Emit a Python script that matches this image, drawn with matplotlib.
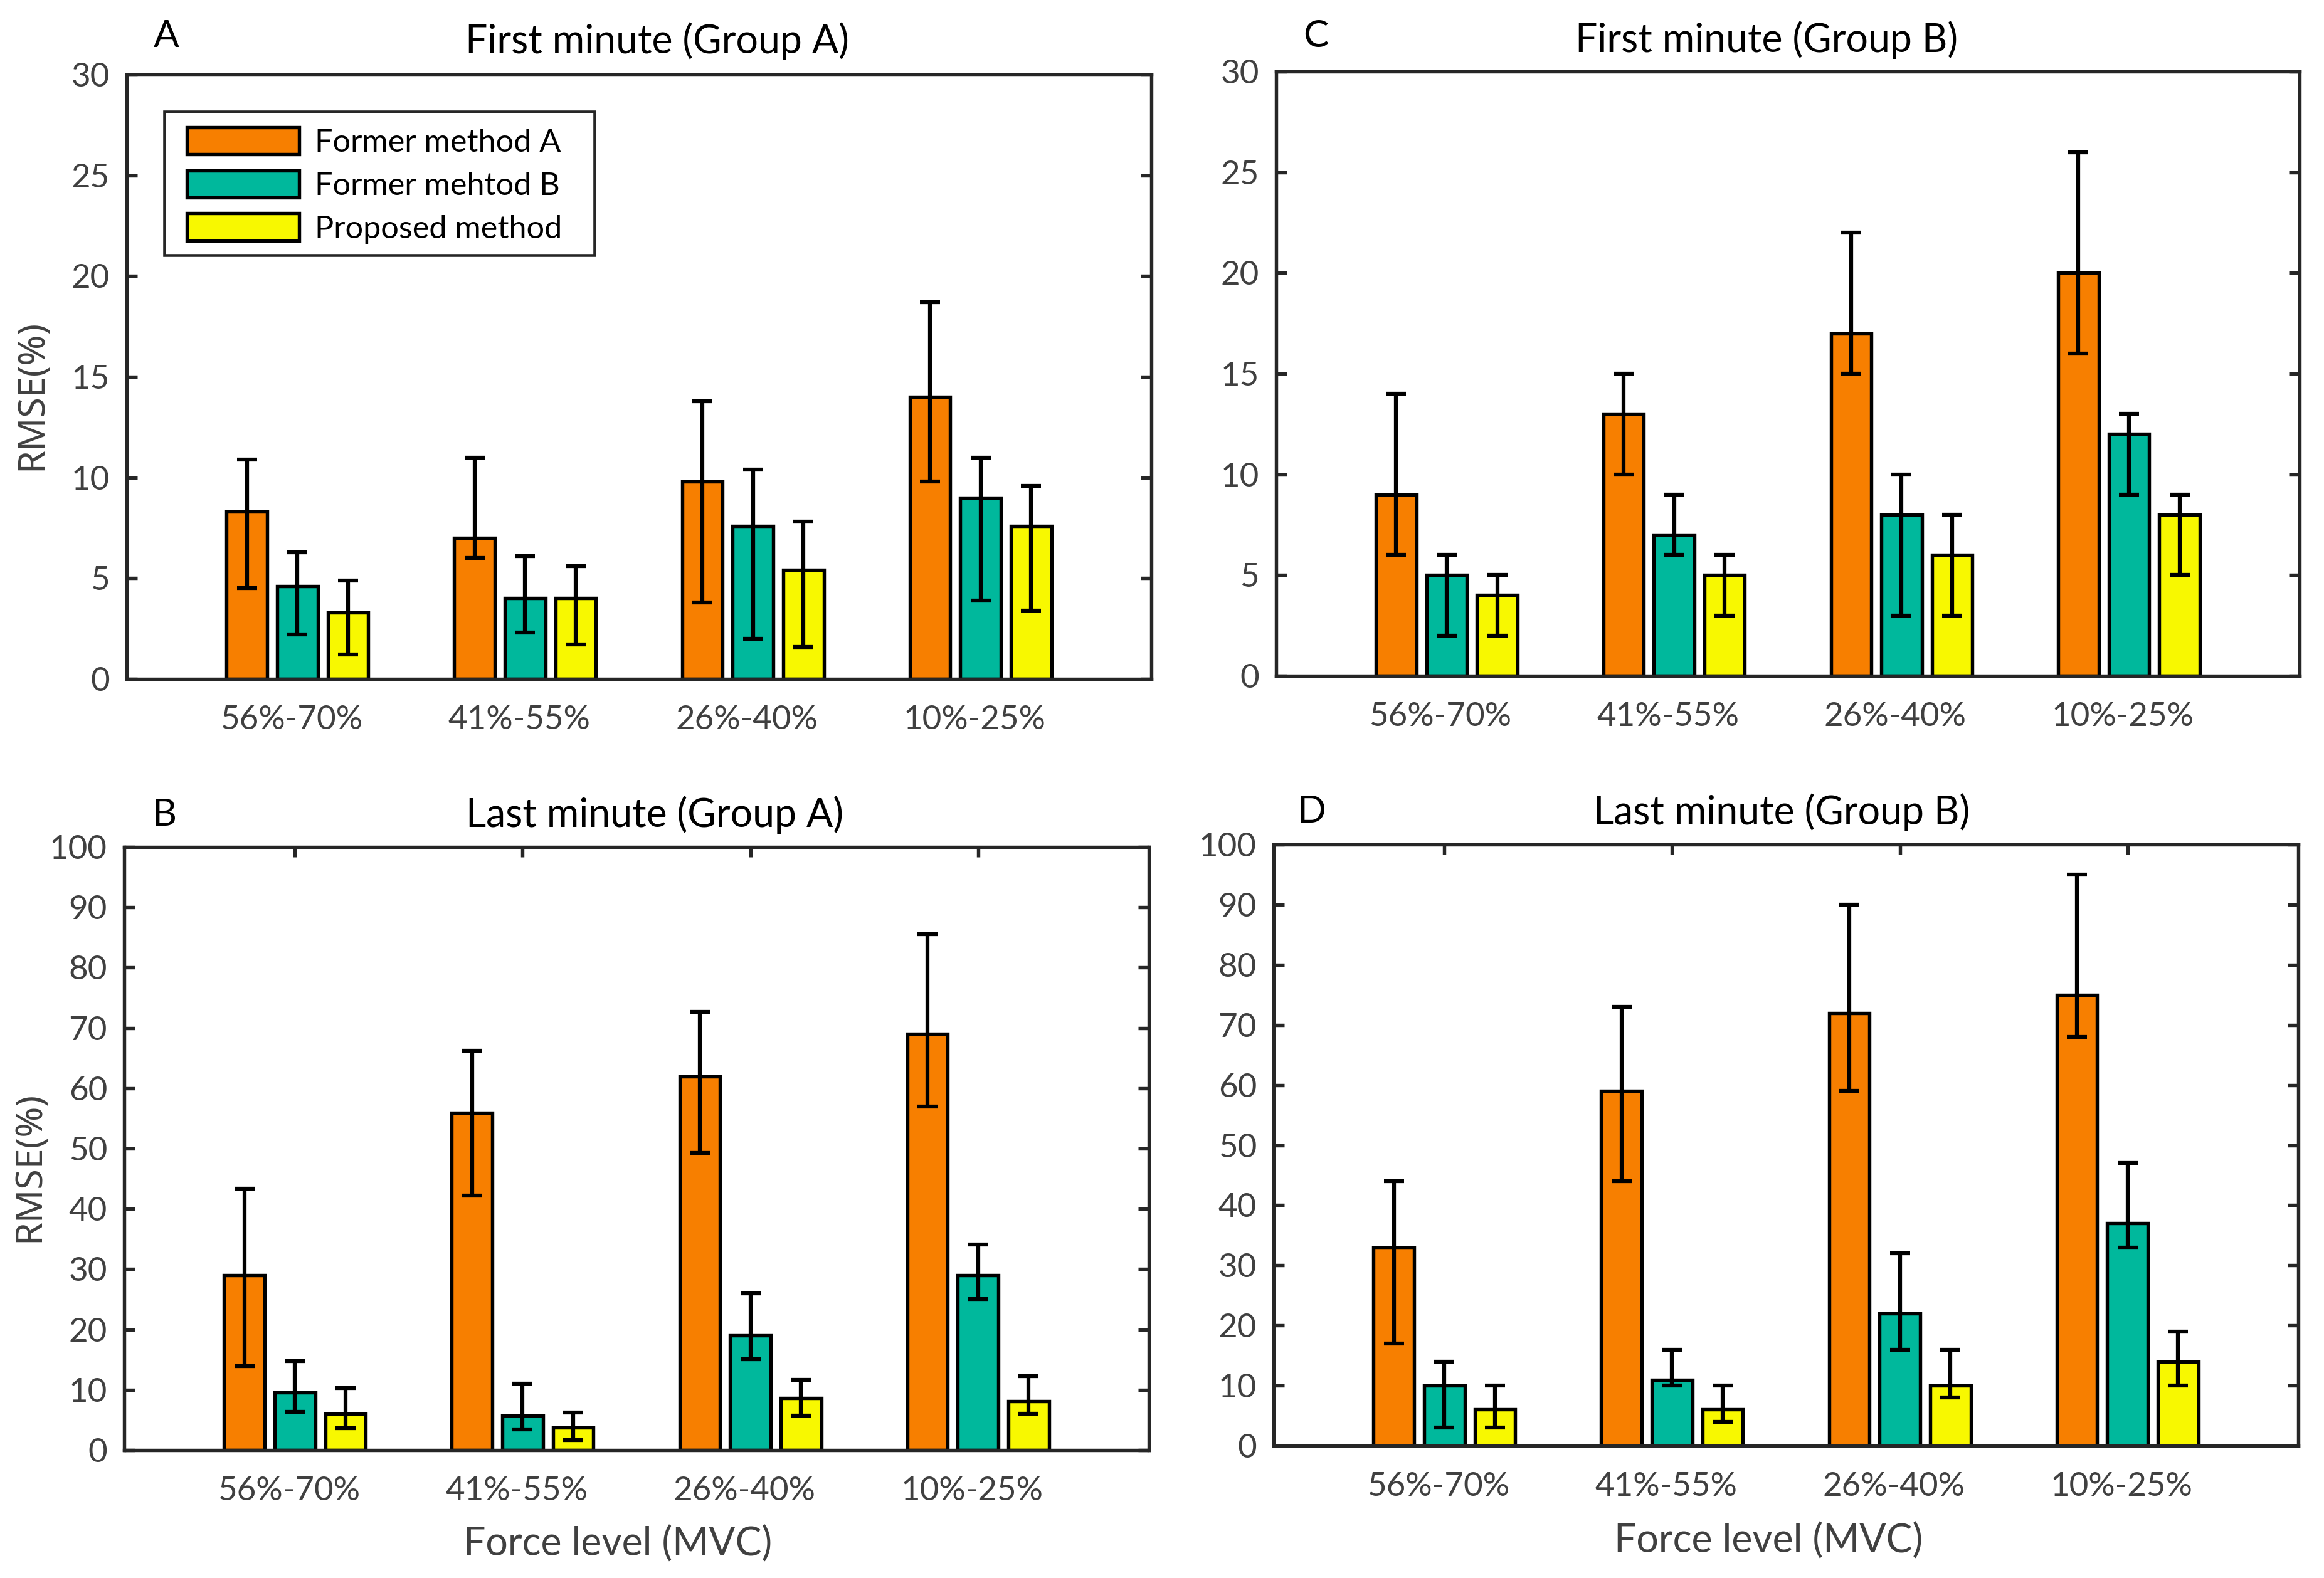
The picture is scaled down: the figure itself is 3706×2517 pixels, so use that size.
import numpy as np
import matplotlib
matplotlib.use("Agg")
import matplotlib.pyplot as plt
from matplotlib.transforms import ScaledTranslation
from matplotlib.patches import Rectangle

plt.rcParams['font.family'] = ['Lato', 'DejaVu Sans']

# ---------------- data ----------------
categories = ["56%-70%", "41%-55%", "26%-40%", "10%-25%"]
series_names = ["Former method A", "Former mehtod B", "Proposed method"]

# Panel A: First minute (Group A)
A_orange = [8.3, 7.0, 9.8, 14.0]
A_orange_lo = [4.5, 6.0, 3.8, 9.8]
A_orange_hi = [10.9, 11.0, 13.8, 18.7]
A_teal = [4.6, 4.0, 7.6, 9.0]
A_teal_lo = [2.2, 2.3, 2.0, 3.9]
A_teal_hi = [6.3, 6.1, 10.4, 11.0]
A_yellow = [3.3, 4.0, 5.4, 7.6]
A_yellow_lo = [1.2, 1.7, 1.6, 3.4]
A_yellow_hi = [4.9, 5.6, 7.8, 9.6]

# Panel C: First minute (Group B)
C_orange = [9, 13, 17, 20]
C_orange_lo = [6, 10, 15, 16]
C_orange_hi = [14, 15, 22, 26]
C_teal = [5, 7, 8, 12]
C_teal_lo = [2, 6, 3, 9]
C_teal_hi = [6, 9, 10, 13]
C_yellow = [4, 5, 6, 8]
C_yellow_lo = [2, 3, 3, 5]
C_yellow_hi = [5, 6, 8, 9]

# Panel B: Last minute (Group A)
B_orange = [29.0, 55.9, 62.0, 69.0]
B_orange_lo = [13.9, 42.2, 49.3, 57.0]
B_orange_hi = [43.3, 66.2, 72.7, 85.5]
B_teal = [9.6, 5.7, 19.0, 29.0]
B_teal_lo = [6.3, 3.4, 15.1, 25.1]
B_teal_hi = [14.8, 11.0, 26.0, 34.1]
B_yellow = [6.0, 3.7, 8.6, 8.1]
B_yellow_lo = [3.6, 1.7, 5.7, 6.0]
B_yellow_hi = [10.3, 6.2, 11.6, 12.3]

# Panel D: Last minute (Group B)
D_orange = [33, 59, 72, 75]
D_orange_lo = [17, 44, 59, 68]
D_orange_hi = [44, 73, 90, 95]
D_teal = [10, 11, 22, 37]
D_teal_lo = [3, 10, 16, 33]
D_teal_hi = [14, 16, 32, 47]
D_yellow = [6, 6, 10, 14]
D_yellow_lo = [3, 4, 8, 10]
D_yellow_hi = [10, 10, 16, 19]

yticks_first = [0, 5, 10, 15, 20, 25, 30]
yticks_last = [0, 10, 20, 30, 40, 50, 60, 70, 80, 90, 100]

# ---------------- style ----------------
colors = ["#F77F00", "#00B89C", "#F8F800"]
spine_col = "#262626"
text_gray = "#404040"

W, H, DPI = 3706, 2517, 300
fig = plt.figure(figsize=(W / DPI, H / DPI), dpi=DPI)
renderer = fig.canvas.get_renderer()

panels = [
    dict(rect=[202/W, 1-1083/H, 1634/W, 964/H], letter="A", title="First minute (Group A)",
         series=[(A_orange, A_orange_lo, A_orange_hi), (A_teal, A_teal_lo, A_teal_hi),
                 (A_yellow, A_yellow_lo, A_yellow_hi)],
         ylim=30, yticks=yticks_first, top_ticks=False, legend=True, ylabel=True, xlabel=False,
         letter_pos=(0.0386, 1.063), title_pos=(0.518, 1.055)),
    dict(rect=[2035/W, 1-1078/H, 1632/W, 964/H], letter="C", title="First minute (Group B)",
         series=[(C_orange, C_orange_lo, C_orange_hi), (C_teal, C_teal_lo, C_teal_hi),
                 (C_yellow, C_yellow_lo, C_yellow_hi)],
         ylim=30, yticks=yticks_first, top_ticks=False, legend=False, ylabel=False, xlabel=False,
         letter_pos=(0.039, 1.058), title_pos=(0.479, 1.052)),
    dict(rect=[198/W, 1-2313/H, 1634/W, 962/H], letter="B", title="Last minute (Group A)",
         series=[(B_orange, B_orange_lo, B_orange_hi), (B_teal, B_teal_lo, B_teal_hi),
                 (B_yellow, B_yellow_lo, B_yellow_hi)],
         ylim=100, yticks=yticks_last, top_ticks=True, legend=False, ylabel=True, xlabel=True,
         letter_pos=(0.039, 1.053), title_pos=(0.518, 1.053), xlabel_pos=(0.482, -0.156)),
    dict(rect=[2031/W, 1-2306/H, 1634/W, 959/H], letter="D", title="Last minute (Group B)",
         series=[(D_orange, D_orange_lo, D_orange_hi), (D_teal, D_teal_lo, D_teal_hi),
                 (D_yellow, D_yellow_lo, D_yellow_hi)],
         ylim=100, yticks=yticks_last, top_ticks=True, legend=False, ylabel=False, xlabel=True,
         letter_pos=(0.037, 1.054), title_pos=(0.496, 1.054), xlabel_pos=(0.483, -0.158)),
]

x = np.arange(1, len(categories) + 1)
offset = 2.0 / 9.0
bw = offset * 0.8

for p in panels:
    ax = fig.add_axes(p["rect"])
    handles = []
    for i, (mean, lo, hi) in enumerate(p["series"]):
        mean = np.asarray(mean, float)
        lo = np.asarray(lo, float)
        hi = np.asarray(hi, float)
        xp = x + (i - 1) * offset
        b = ax.bar(xp, mean, width=bw, color=colors[i], edgecolor="black",
                   linewidth=1.3, zorder=2, label=series_names[i])
        handles.append(b)
        ax.errorbar(xp, mean, yerr=[mean - lo, hi - mean], fmt="none", ecolor="black",
                    elinewidth=1.5, capsize=3.8, capthick=1.5, zorder=3)
    ax.set_xlim(0.25, 4.75)
    ax.set_ylim(0, p["ylim"])
    ax.set_yticks(p["yticks"])
    ax.set_xticks(x)
    ax.set_xticklabels(categories)
    for s in ax.spines.values():
        s.set_color(spine_col)
        s.set_linewidth(1.3)
        s.set_zorder(4)
    ax.tick_params(axis="y", direction="in", length=4, width=1.3, left=True, right=True,
                   labelsize=12.7, labelcolor=text_gray, pad=6.5, color=spine_col)
    ax.tick_params(axis="x", direction="in", length=3.9, width=1.3, bottom=False,
                   top=p["top_ticks"], labelbottom=True, labelsize=12.7,
                   labelcolor=text_gray, pad=10, color=spine_col)
    shift = ScaledTranslation(-10 / DPI, 0, fig.dpi_scale_trans)
    for lab in ax.get_xticklabels():
        lab.set_transform(lab.get_transform() + shift)

    ax.text(p["letter_pos"][0], p["letter_pos"][1], p["letter"], transform=ax.transAxes,
            ha="center", va="center", fontsize=14.5, color="black")
    ax.text(p["title_pos"][0], p["title_pos"][1], p["title"], transform=ax.transAxes,
            ha="center", va="center", fontsize=15, color="black")
    if p["ylabel"]:
        yl = ax.set_ylabel("RMSE(%)", fontsize=14, color=text_gray,
                           family=["Noto Sans", "DejaVu Sans"])
        ax.yaxis.set_label_coords(-0.0747, 0.47)
        ext = yl.get_window_extent(renderer=renderer)
        if ext.height > 0:
            yl.set_fontsize(14 * 240.0 / ext.height)
    if p["xlabel"]:
        ax.text(p["xlabel_pos"][0], p["xlabel_pos"][1], "Force level (MVC)",
                transform=ax.transAxes, ha="center", va="center", fontsize=15,
                color=text_gray)
    if p["legend"]:
        fx0 = (262 - 202) / 1634
        fx1 = (948 - 202) / 1634
        fy1 = (1083 - 178) / 964
        fy0 = (1083 - 407) / 964
        ax.add_patch(Rectangle((fx0, fy0), fx1 - fx0, fy1 - fy0, transform=ax.transAxes,
                               facecolor="white", edgecolor=spine_col, linewidth=1.1,
                               zorder=4.5))
        leg = ax.legend(handles=handles, loc="upper left",
                        bbox_to_anchor=((298 - 202) / 1634, (1083 - 203) / 964),
                        borderaxespad=0, borderpad=0, fontsize=12.1, frameon=False,
                        handlelength=3.55, handleheight=0.95, handletextpad=0.5,
                        labelspacing=0.41)
        leg.set_zorder(5)

fig.savefig("out.png", dpi=DPI, facecolor="white")
